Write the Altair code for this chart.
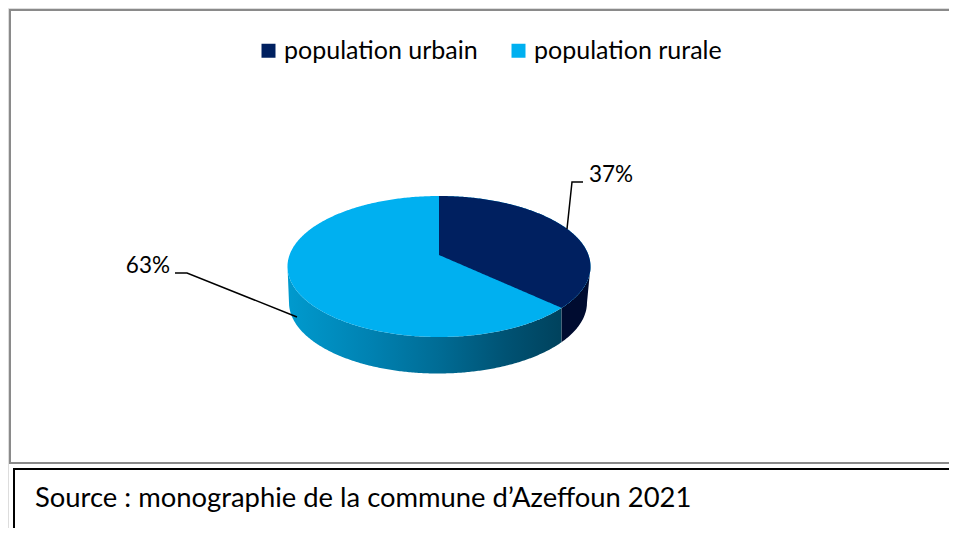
import altair as alt
import numpy as np
import pandas as pd

# ---------------- data ----------------
categories = ["population urbain", "population rurale"]
shares = [37, 63]
pct_labels = ["37%", "63%"]
top_colors = ["#002060", "#00B0F0"]
source_text = "Source : monographie de la commune d\u2019Azeffoun 2021"

# ---------------- layout constants (page pixels) ----------------
W, H = 941, 520
X0, Y0 = 8, 8
CX, CY, RX, RY = 439.0, 266.5, 151.5, 70.5      # top face silhouette ellipse
APEX_Y = 255.0                                   # projected pie centre
BCX, BCY, BRX, BRY = 438.0, 302.5, 149.0, 71.0   # bottom face ellipse
FONT = "Lato"

p = (CY - APEX_Y) / RY
a = RX * np.sqrt(1 - p ** 2)
b = RY * (1 - p ** 2)


def proj(t):
    u, v = np.sin(t), np.cos(t)
    d = 1 + p * v
    return CX + a * u / d, APEX_Y - b * v / d


def top_back(x):
    return CY - RY * np.sqrt(np.clip(1 - ((x - CX) / RX) ** 2, 0, 1))


def top_front(x):
    return CY + RY * np.sqrt(np.clip(1 - ((x - CX) / RX) ** 2, 0, 1))


def bottom_front(x):
    L0, L1 = CX - RX, BCX - BRX
    R0, R1 = CX + RX, BCX + BRX
    x = np.asarray(x, dtype=float)
    inner = BCY + BRY * np.sqrt(np.clip(1 - ((x - BCX) / BRX) ** 2, 0, 1))
    left = CY + (x - L0) / (L1 - L0) * (BCY - CY)
    right = BCY + (x - R1) / (R0 - R1) * (CY - BCY)
    return np.where(x < L1, left, np.where(x > R1, right, inner))


t_b = 2 * np.pi * shares[0] / sum(shares)
xb, yb = proj(t_b)

theta = np.linspace(-np.pi / 2, np.pi / 2, 301)
xs_all = CX + RX * np.sin(theta)
xs_all = np.unique(np.round(np.concatenate([xs_all, [xb, BCX - BRX, BCX + BRX]]), 3))


def frame(x, ylo, yhi, cat=None):
    d = pd.DataFrame({"px": [float(v) for v in x],
                      "py": [float(round(v, 3)) for v in ylo],
                      "pb": [float(round(v, 3)) for v in yhi]})
    if cat is not None:
        d["cat"] = cat
    return d


rural_top = frame(xs_all, top_back(xs_all), top_front(xs_all), categories[1])
xu = xs_all[xs_all >= CX]
line_y = APEX_Y + (xu - CX) / (xb - CX) * (yb - APEX_Y)
urban_top = frame(xu, top_back(xu), np.where(xu <= xb, line_y, top_front(xu)), categories[0])
xr = xs_all[xs_all <= xb + 1e-9]
rural_side = frame(xr, top_front(xr), bottom_front(xr))
xw = xs_all[xs_all >= xb - 1e-9]
urban_side = frame(xw, top_front(xw), bottom_front(xw))

leaders = pd.DataFrame({
    "px": [583, 572, 567, 175, 187, 297],
    "py": [182, 182, 229, 273, 273, 317],
    "g": ["u", "u", "u", "r", "r", "r"],
    "i": [0, 1, 2, 0, 1, 2],
})
label_df = pd.DataFrame({"px": [589, 170], "py": [182, 273], "t": pct_labels})

xsc = alt.Scale(domain=[X0, X0 + W], nice=False, zero=False)
ysc = alt.Scale(domain=[Y0, Y0 + H], nice=False, zero=False, reverse=True)
X = alt.X("px", type="quantitative", scale=xsc, axis=None)
Y = alt.Y("py", type="quantitative", scale=ysc, axis=None)
Y2 = alt.Y2("pb")

color = alt.Color(
    "cat", type="nominal",
    scale=alt.Scale(domain=categories, range=top_colors),
    legend=alt.Legend(
        title=None, orient="none", legendX=248, legendY=30, direction="horizontal",
        symbolType="square", symbolSize=196, symbolStrokeWidth=0,
        labelFont=FONT, labelFontSize=25, labelColor="black", labelOffset=3,
        columnPadding=28, labelLimit=400,
    ),
)

rural_grad = alt.LinearGradient(
    gradient="linear", x1=0, x2=1, y1=0, y2=0,
    stops=[
        alt.GradientStop(offset=0.0, color="#009ACE"),
        alt.GradientStop(offset=0.3, color="#0082B2"),
        alt.GradientStop(offset=0.55, color="#006C95"),
        alt.GradientStop(offset=0.8, color="#005273"),
        alt.GradientStop(offset=1.0, color="#00425D"),
    ],
)

side_r = alt.Chart(rural_side).mark_area(color=rural_grad, orient="vertical").encode(x=X, y=Y, y2=Y2)
side_u = alt.Chart(urban_side).mark_area(color="#000C30", orient="vertical").encode(x=X, y=Y, y2=Y2)
top_r = alt.Chart(rural_top).mark_area(orient="vertical").encode(x=X, y=Y, y2=Y2, color=color)
top_u = alt.Chart(urban_top).mark_area(orient="vertical").encode(x=X, y=Y, y2=Y2, color=color)

lead = alt.Chart(leaders).mark_line(color="black", strokeWidth=1.5).encode(
    x=X, y=Y, detail="g:N", order="i:Q")

txt_l = alt.Chart(label_df.iloc[[0]]).mark_text(
    align="left", baseline="alphabetic", font=FONT, fontSize=22.5, color="black"
).encode(x=X, y=Y, text="t:N")
txt_r = alt.Chart(label_df.iloc[[1]]).mark_text(
    align="right", baseline="alphabetic", font=FONT, fontSize=22.5, color="black"
).encode(x=X, y=Y, text="t:N")

src = alt.Chart(pd.DataFrame({"px": [35], "py": [507], "t": [source_text]})).mark_text(
    align="left", baseline="alphabetic", font=FONT, fontSize=27.4, color="black"
).encode(x=X, y=Y, text="t:N")

one = pd.DataFrame({"a": [0]})
gray = dict(color="#8A8A8A", strokeWidth=2)
blk = dict(color="black", strokeWidth=2)
g_top = alt.Chart(one).mark_rule(**gray).encode(x=alt.value(1), x2=alt.value(W), y=alt.value(2))
g_left = alt.Chart(one).mark_rule(**gray).encode(x=alt.value(2), y=alt.value(1), y2=alt.value(455))
g_bot = alt.Chart(one).mark_rule(**gray).encode(x=alt.value(1), x2=alt.value(W), y=alt.value(455))
b_top = alt.Chart(one).mark_rule(**blk).encode(x=alt.value(5), x2=alt.value(W), y=alt.value(461))
b_left = alt.Chart(one).mark_rule(**blk).encode(x=alt.value(6), y=alt.value(460), y2=alt.value(H))

chart = alt.layer(side_r, side_u, top_r, top_u, lead, txt_l, txt_r, src,
                  g_top, g_left, g_bot, b_top, b_left).properties(
    width=W, height=H, autosize="none", padding=0
).configure_view(stroke=None).configure(background="white")

chart.save("out.html", embed_options={"renderer": "svg", "actions": False})
